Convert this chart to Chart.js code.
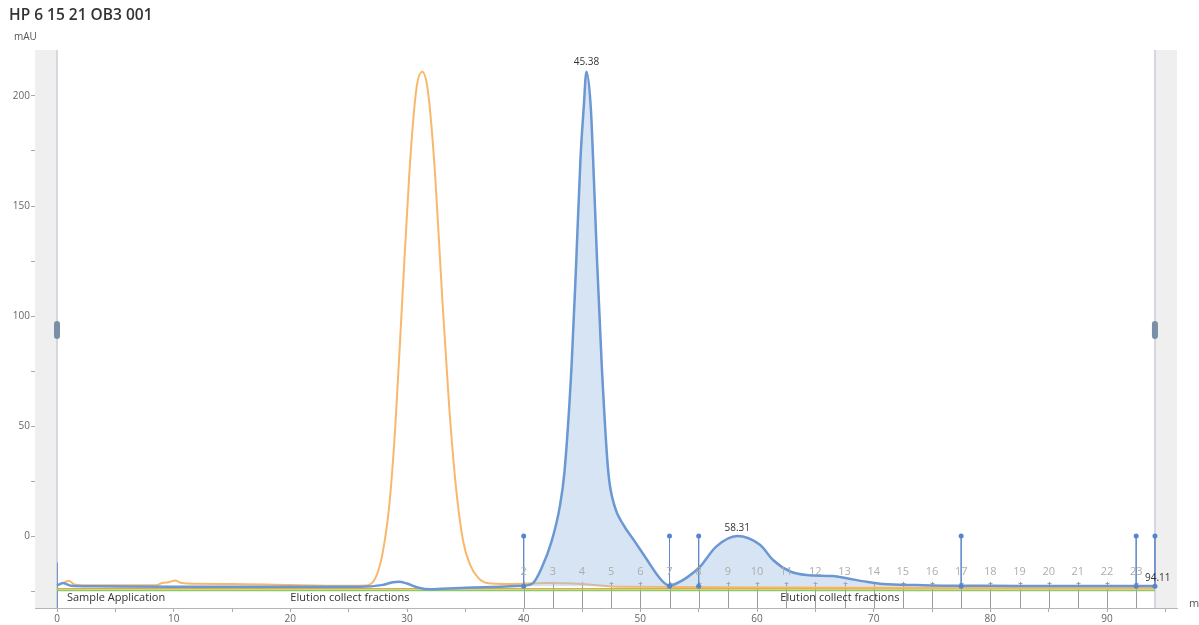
<!DOCTYPE html>
<html>
<head>
<meta charset="utf-8">
<script src="https://cdn.jsdelivr.net/npm/chart.js@4.4.1/dist/chart.umd.min.js"></script>
<style>
  html, body { margin: 0; padding: 0; background: #fff; }
  canvas { display: block; }
</style>
</head>
<body>
<canvas id="chrom" width="1199" height="625"></canvas>
<script>
// UV trace (blue), before the elution peak region
var blueAMl  = [0, 0.5, 1.2, 3, 10, 20, 26, 27.8, 28.8, 29.3, 30.0, 31.0, 32.0, 33.0, 35, 38, 40];
var blueAMau = [-22.5, -21.3, -22.6, -22.8, -23, -23, -23, -22.3, -21, -20.8, -21.6, -23.5, -24.2, -23.9, -23.5, -23, -22.6];

// UV trace (blue), integrated region 40 -> 94.11
var blueBMl  = [40, 40.8, 41.5, 42.4, 43.1, 43.5, 44.1, 44.5, 44.87, 45.15, 45.38, 45.75, 45.95, 46.3, 46.7, 47.25, 47.8, 48.5, 49.5, 50.5, 51.5, 52.1, 52.5, 53.0, 53.95, 55.1, 56.5, 58.31, 60.25, 61.4, 62.8, 64.25, 66.5, 67.7, 69.4, 70.8, 73.7, 76.5, 80, 85, 90, 94.11];
var blueBMau = [-22.6, -21.4, -15, -2.3, 13.5, 29.3, 76.7, 124, 171.5, 195, 211, 195, 171.5, 124, 76.7, 29.3, 13.5, 5.5, -2.3, -10.2, -18, -21.5, -22.6, -21.8, -19, -14, -4.8, 0, -4, -11, -16, -17.7, -18.2, -19.2, -20.8, -21.8, -22.3, -22.6, -22.6, -22.7, -22.7, -22.7];

// second trace (orange)
var orangeMl  = [0, 0.6, 1.0, 1.5, 3, 8.5, 9.0, 9.6, 10.1, 10.6, 11.2, 15, 20, 25, 26.5, 27.3, 27.9, 28.5, 29.0, 29.6, 30.2, 30.8, 31.3, 31.8, 32.4, 33.0, 33.6, 34.2, 34.8, 35.4, 36.1, 37.0, 38.5, 42, 45, 48, 60, 80, 94.11];
var orangeMau = [-22.5, -21.2, -20.3, -22, -22.4, -22.4, -21.3, -21.0, -20.2, -21.2, -21.6, -21.8, -22.3, -22.6, -22.5, -19, -8, 15, 50, 108, 165, 203, 211, 202, 165, 110, 60, 22, -2, -13, -19, -21.5, -21.8, -21.3, -21.8, -23, -23.3, -23.5, -23.5];

var greenMl = [0, 94.11];
var greenMau = [-24.8, -24.8];
var yellowMl = [0, 94.11];
var yellowMau = [-24, -24];

// peak / boundary markers
var markerMl = [40, 52.5, 55, 77.5, 92.5, 94.11];
var markerTop = 0;
var markerBottom = -22.8;

// fractions
var fractionNames = ['2','3','4','5','6','7','8','9','10','11','12','13','14','15','16','17','18','19','20','21','22','23'];
var fractionMl = [40, 42.5, 45, 47.5, 50, 52.5, 55, 57.5, 60, 62.5, 65, 67.5, 70, 72.5, 75, 77.5, 80, 82.5, 85, 87.5, 90, 92.5];

var peakLabels = [['45.38', 45.38, 215.5], ['58.31', 58.31, 3.5], ['94.11', 94.11, -19]];

var xMin = -1.886, xMax = 96.0, yMin = -32.7, yMax = 220.9;

function pts(xs, ys) {
    return xs.map(function(x, i) { return { x: x, y: ys[i] }; });
}

var font = '"Open Sans", "DejaVu Sans", sans-serif';

var datasets = [];
markerMl.forEach(function(m) {
    datasets.push({
        data: [{ x: m, y: markerTop }, { x: m, y: markerBottom }],
        borderColor: 'rgba(95,138,205,0.85)',
        borderWidth: 1,
        pointRadius: 2.5,
        pointBackgroundColor: '#5585cc',
        pointBorderWidth: 0,
        tension: 0
    });
});
datasets.push({
    data: pts(blueBMl, blueBMau),
    borderColor: '#6b97d2',
    borderWidth: 2.5,
    pointRadius: 0,
    cubicInterpolationMode: 'monotone',
    fill: { value: markerBottom },
    backgroundColor: 'rgba(160,190,228,0.42)'
});
datasets.push({
    data: pts(blueAMl, blueAMau),
    borderColor: '#6b97d2',
    borderWidth: 2.5,
    pointRadius: 0,
    cubicInterpolationMode: 'monotone',
    fill: false
});
datasets.push({
    data: pts(orangeMl, orangeMau),
    borderColor: '#f7b86c',
    borderWidth: 2,
    pointRadius: 0,
    cubicInterpolationMode: 'monotone',
    fill: false
});
datasets.push({
    data: pts(yellowMl, yellowMau),
    borderColor: '#cdb442',
    borderWidth: 1.5,
    pointRadius: 0,
    fill: false
});
datasets.push({
    data: pts(greenMl, greenMau),
    borderColor: '#8cc865',
    borderWidth: 1.5,
    pointRadius: 0,
    fill: false
});

var extras = {
    id: 'extras',
    beforeDatasetsDraw: function(chart) {
        var c = chart.ctx, a = chart.chartArea, x = chart.scales.x, y = chart.scales.y;
        var x0 = x.getPixelForValue(0), xe = x.getPixelForValue(94.11);
        c.save();
        c.fillStyle = '#efefef';
        c.fillRect(a.left, a.top, x0 - a.left, a.bottom - a.top);
        c.fillRect(xe, a.top, a.right - xe, a.bottom - a.top);
        c.strokeStyle = '#c9ced8';
        c.lineWidth = 1.5;
        c.beginPath();
        c.moveTo(x0, a.top); c.lineTo(x0, a.bottom);
        c.moveTo(xe, a.top); c.lineTo(xe, a.bottom);
        c.stroke();
        // start marker at 0 ml
        c.strokeStyle = 'rgba(90,130,200,0.8)';
        c.lineWidth = 1;
        c.beginPath();
        c.moveTo(x0 + 0.5, y.getPixelForValue(-12)); c.lineTo(x0 + 0.5, a.bottom);
        c.stroke();
        // fraction lines
        c.strokeStyle = '#9a9a9a';
        c.lineWidth = 1;
        c.beginPath();
        fractionMl.forEach(function(m) {
            var px = Math.round(x.getPixelForValue(m)) + 0.5;
            c.moveTo(px, y.getPixelForValue(-20.8)); c.lineTo(px, a.bottom);
            c.moveTo(px - 2, y.getPixelForValue(-21.6)); c.lineTo(px + 2, y.getPixelForValue(-21.6));
        });
        c.stroke();
        c.restore();
    },
    afterDatasetsDraw: function(chart) {
        var c = chart.ctx, x = chart.scales.x, y = chart.scales.y;
        c.save();
        // handles
        c.fillStyle = '#7b8ea8';
        [0, 94.11].forEach(function(m) {
            var px = x.getPixelForValue(m), py = y.getPixelForValue(93.6);
            c.beginPath();
            c.roundRect(px - 3, py - 9, 6, 18, 3);
            c.fill();
        });
        // fraction numbers
        c.fillStyle = '#adadad';
        c.font = '11px ' + font;
        c.textAlign = 'center';
        c.textBaseline = 'middle';
        fractionNames.forEach(function(n, i) {
            c.fillText(n, x.getPixelForValue(fractionMl[i]), y.getPixelForValue(-16.2));
        });
        // section texts
        c.fillStyle = '#333';
        c.font = '11px ' + font;
        c.textAlign = 'left';
        c.fillText('Sample Application', x.getPixelForValue(0.85), y.getPixelForValue(-28.2));
        c.fillText('Elution collect fractions', x.getPixelForValue(20), y.getPixelForValue(-28.2));
        c.fillText('Elution collect fractions', x.getPixelForValue(62), y.getPixelForValue(-28.2));
        // peak labels
        c.font = '10px ' + font;
        peakLabels.forEach(function(p) {
            c.textAlign = p[0] === '94.11' ? 'left' : 'center';
            var px = x.getPixelForValue(p[1]) + (p[0] === '94.11' ? -10 : 0);
            c.fillText(p[0], px, y.getPixelForValue(p[2]));
        });
        c.restore();
    },
    afterDraw: function(chart) {
        var c = chart.ctx;
        c.save();
        c.fillStyle = '#333';
        c.textBaseline = 'middle';
        c.textAlign = 'left';
        c.font = '600 15.5px ' + font;
        c.fillText('HP 6 15 21 OB3 001', 9, 16);
        c.fillStyle = '#555';
        c.font = '10px ' + font;
        c.fillText('mAU', 14, 37);
        c.font = '11px ' + font;
        c.fillText('ml', 1189, 604);
        c.restore();
    }
};

function keepSteps(step) {
    return function(scale) {
        var out = [];
        var first = Math.ceil(scale.min / step) * step;
        for (var v = first; v <= scale.max + 1e-9; v += step) out.push({ value: v });
        scale.ticks = out;
    };
}

new Chart(document.getElementById('chrom'), {
    type: 'line',
    data: { datasets: datasets },
    plugins: [extras],
    options: {
        responsive: false,
        animation: false,
        devicePixelRatio: 1,
        layout: { padding: { left: 0, top: 50, right: 22, bottom: 0 } },
        plugins: { legend: { display: false }, tooltip: { enabled: false } },
        scales: {
            x: {
                type: 'linear',
                min: xMin,
                max: xMax,
                afterBuildTicks: keepSteps(5),
                afterFit: function(s) { s.height = 17; },
                grid: { display: true, drawOnChartArea: false, tickLength: 4, color: '#aaa' },
                border: { color: '#b5b5b5', width: 1 },
                ticks: {
                    padding: 1,
                    maxRotation: 0,
                    autoSkip: false,
                    color: '#666',
                    font: { family: font, size: 10 },
                    callback: function(v) { return Math.round(v) % 10 === 0 ? String(Math.round(v)) : ''; }
                }
            },
            y: {
                type: 'linear',
                min: yMin,
                max: yMax,
                afterBuildTicks: keepSteps(25),
                afterFit: function(s) { s.width = 35; },
                grid: { display: true, drawOnChartArea: false, tickLength: 4, color: '#aaa' },
                border: { color: '#b5b5b5', width: 1 },
                ticks: {
                    padding: 1,
                    autoSkip: false,
                    color: '#666',
                    font: { family: font, size: 10 },
                    callback: function(v) { return (Math.round(v) % 50 === 0 && v >= 0) ? String(Math.round(v)) : ''; }
                }
            }
        }
    }
});
</script>
</body>
</html>
